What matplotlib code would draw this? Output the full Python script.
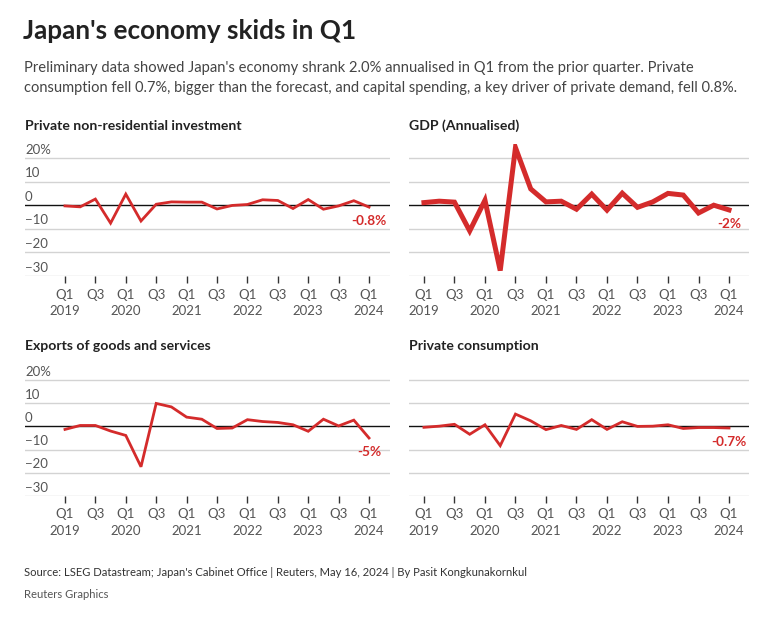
import matplotlib
matplotlib.use("Agg")
import matplotlib.pyplot as plt
import matplotlib.transforms as mtransforms

# quarterly % change, Q1 2019 .. Q1 2024
investment = [-0.3, -0.7, 2.6, -7.6, 4.7, -6.7, 0.4, 1.4, 1.3, 1.3, -1.6,
              -0.1, 0.3, 2.3, 2.0, -1.4, 2.4, -1.7, -0.3, 1.9, -0.8]
gdp = [1.1, 1.7, 1.3, -10.9, 2.1, -27.7, 24.4, 6.9, 1.4, 1.7, -1.7,
       4.7, -2.1, 5.1, -0.9, 1.4, 5.0, 4.3, -3.3, 0.0, -2.0]
exports = [-1.3, 0.4, 0.4, -2.0, -3.9, -17.4, 9.9, 8.4, 4.0, 3.1, -0.9,
           -0.7, 2.9, 2.1, 1.7, 0.7, -2.1, 3.1, 0.2, 2.7, -5.0]
consumption = [-0.4, 0.1, 0.9, -3.4, 0.7, -8.3, 5.3, 2.4, -1.4, 0.4, -1.3,
               2.9, -1.3, 2.0, 0.0, 0.1, 0.7, -0.9, -0.5, -0.5, -0.7]

tick_labels = ["Q1\n2019", "Q3", "Q1\n2020", "Q3", "Q1\n2021", "Q3",
               "Q1\n2022", "Q3", "Q1\n2023", "Q3", "Q1\n2024"]
y_levels = [20, 10, 0, -10, -20, -30]
y_labels = ["20%", "10", "0", "\u221210", "\u221220", "\u221230"]

panels = [
    ("Private non-residential investment", investment, "-0.8%", 2.0),
    ("GDP (Annualised)", gdp, "-2%", 3.6),
    ("Exports of goods and services", exports, "-5%", 2.0),
    ("Private consumption", consumption, "-0.7%", 2.0),
]

RED = "#d42b2b"
W, H = 765, 619
plt.rcParams["font.family"] = ["Lato", "DejaVu Sans"]

fig = plt.figure(figsize=(W / 100, H / 100), dpi=100)


def px_axes(x0, x1, ybot, ytop):
    return fig.add_axes([x0 / W, 1 - ybot / H, (x1 - x0) / W, (ybot - ytop) / H])


fig.text(23 / W, 1 - 31 / H, "Japan's economy skids in Q1", fontsize=18.8,
         fontweight="bold", color="#222222", va="center", ha="left")
fig.text(24 / W, 1 - 68 / H,
         "Preliminary data showed Japan's economy shrank 2.0% annualised in Q1 from the prior quarter. Private",
         fontsize=10.6, color="#444444", va="center", ha="left")
fig.text(24 / W, 1 - 88 / H,
         "consumption fell 0.7%, bigger than the forecast, and capital spending, a key driver of private demand, fell 0.8%.",
         fontsize=10.55, color="#444444", va="center", ha="left")

layout = [
    (25, 390, 276, 158, -2.63, 21.38, 126, True),
    (409, 749, 276, 158, -0.98, 21.31, 126, False),
    (25, 390, 496, 380, -2.63, 21.38, 346, True),
    (409, 749, 496, 380, -0.98, 21.31, 346, False),
]

for (title, data, end_label, lw), (x0, x1, yb, y20, xa, xb, ty, show_y) in zip(panels, layout):
    per = (yb - y20) / 50.0
    ax = px_axes(x0, x1, yb, yb - 56 * per)
    ax.set_xlim(xa, xb)
    ax.set_ylim(-30, 26)
    for v in y_levels:
        if v == 0:
            ax.axhline(v, color="#111111", lw=1.0, zorder=2)
        else:
            ax.axhline(v, color="#d3d3d3", lw=1.0, zorder=1)
    if show_y:
        tr = mtransforms.blended_transform_factory(ax.transAxes, ax.transData)
        for v, lab in zip(y_levels, y_labels):
            ax.text(0.0, v + 3.6, lab, transform=tr, fontsize=9.5, color="#555555",
                    ha="left", va="center")
    xs = list(range(len(data)))
    ax.plot(xs, data, color=RED, lw=lw, solid_joinstyle="miter", zorder=3)
    ax.annotate(end_label, (xs[-1], data[-1]), xytext=(0, -10), textcoords="offset points",
                ha="center", va="center", fontsize=9.8, fontweight="bold", color=RED)
    ax.set_xticks(range(0, len(data), 2))
    ax.set_xticklabels(tick_labels, fontsize=9.5, color="#555555", linespacing=1.45)
    ax.tick_params(axis="x", length=5, width=1, color="#333333", pad=4)
    ax.set_yticks([])
    for s in ax.spines.values():
        s.set_visible(False)
    fig.text(x0 / W, 1 - ty / H, title, fontsize=10.1,
             fontweight="bold", color="#222222", va="center", ha="left")

fig.text(24 / W, 1 - 573 / H,
         "Source: LSEG Datastream; Japan's Cabinet Office | Reuters, May 16, 2024 | By Pasit Kongkunakornkul",
         fontsize=8.1, color="#333333", va="center", ha="left")
fig.text(24 / W, 1 - 594 / H, "Reuters Graphics", fontsize=8.1, color="#555555",
         va="center", ha="left")

fig.savefig("out.png", dpi=100, facecolor="white")
